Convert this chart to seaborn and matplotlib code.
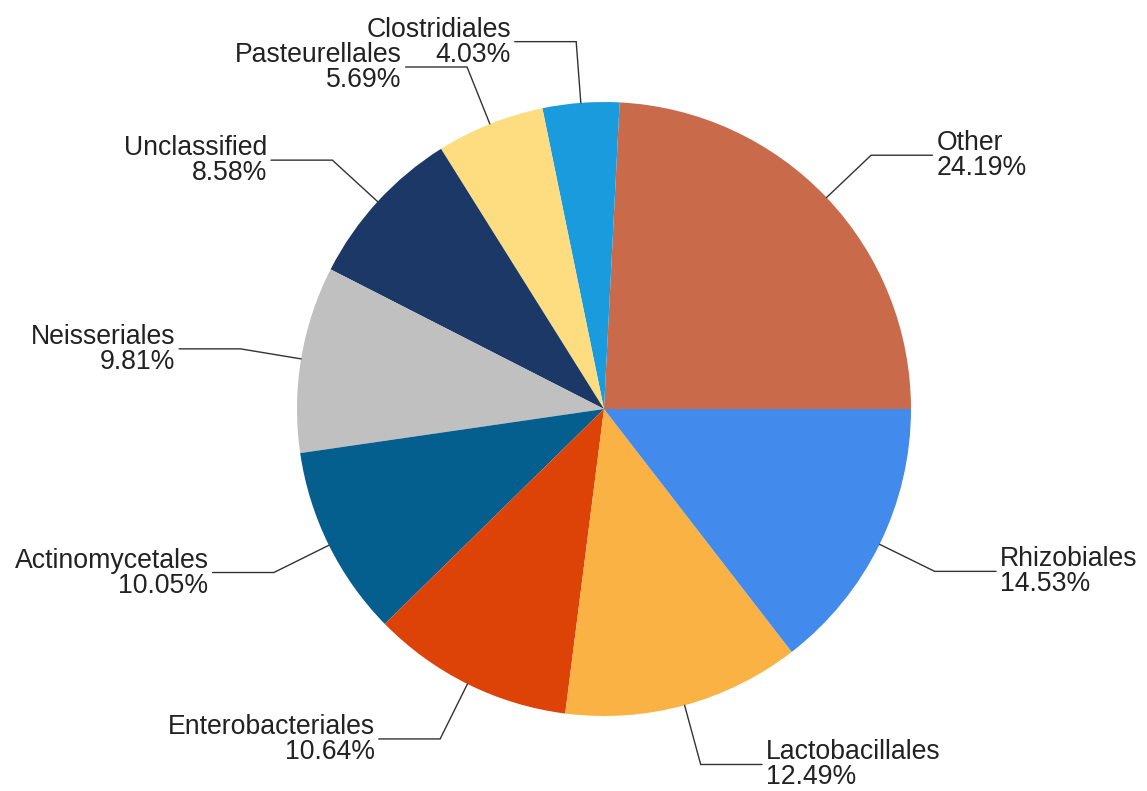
import numpy as np
import matplotlib
matplotlib.use("Agg")
from matplotlib import pyplot as plt
import seaborn as sns

# Chart data
orders = ["Other", "Clostridiales", "Pasteurellales", "Unclassified", "Neisseriales",
          "Actinomycetales", "Enterobacteriales", "Lactobacillales", "Rhizobiales"]
shares = [24.19, 4.03, 5.69, 8.58, 9.81, 10.05, 10.64, 12.49, 14.53]
slice_colors = ["#C96B4B", "#1A9BDD", "#FDDD80", "#1B3866", "#C0C0C0",
                "#045F8E", "#DD4207", "#F9B243", "#428AEC"]

sns.set_theme(style="white")
plt.rcParams['font.family'] = ['Liberation Sans', 'DejaVu Sans']

W, H = 1147, 791
fig = plt.figure(figsize=(W / 100, H / 100), dpi=100)
ax = fig.add_axes([0, 0, 1, 1])

cx, cy, r = 604, H - 409, 307
palette = sns.color_palette(slice_colors)

wedges, _ = ax.pie(shares, colors=palette, startangle=0, counterclock=True,
                   center=(cx, cy), radius=r, frame=True,
                   wedgeprops={'linewidth': 0})
ax.set_xlim(0, W)
ax.set_ylim(0, H)
ax.set_aspect('equal')
ax.axis('off')

# Leader lines and two-line labels (name above the line, share below)
for w, name, val in zip(wedges, orders, shares):
    mid = np.deg2rad((w.theta1 + w.theta2) / 2)
    x0, y0 = cx + r * np.cos(mid), cy + r * np.sin(mid)
    x1, y1 = cx + 1.2 * r * np.cos(mid), cy + 1.2 * r * np.sin(mid)
    side = 1 if np.cos(mid) >= 0 else -1
    x2 = x1 + side * 0.2 * r
    ax.plot([x0, x1, x2], [y0, y1, y1], color='#333333', lw=1.0,
            solid_joinstyle='miter')
    ha = 'left' if side > 0 else 'right'
    ax.text(x2 + side * 4, y1 + 5, name, ha=ha, va='baseline',
            fontsize=19.2, color='#222222')
    ax.text(x2 + side * 4, y1 - 20, f"{val:.2f}%", ha=ha, va='baseline',
            fontsize=19.2, color='#222222')

fig.savefig('out.png', dpi=100, facecolor='white')
